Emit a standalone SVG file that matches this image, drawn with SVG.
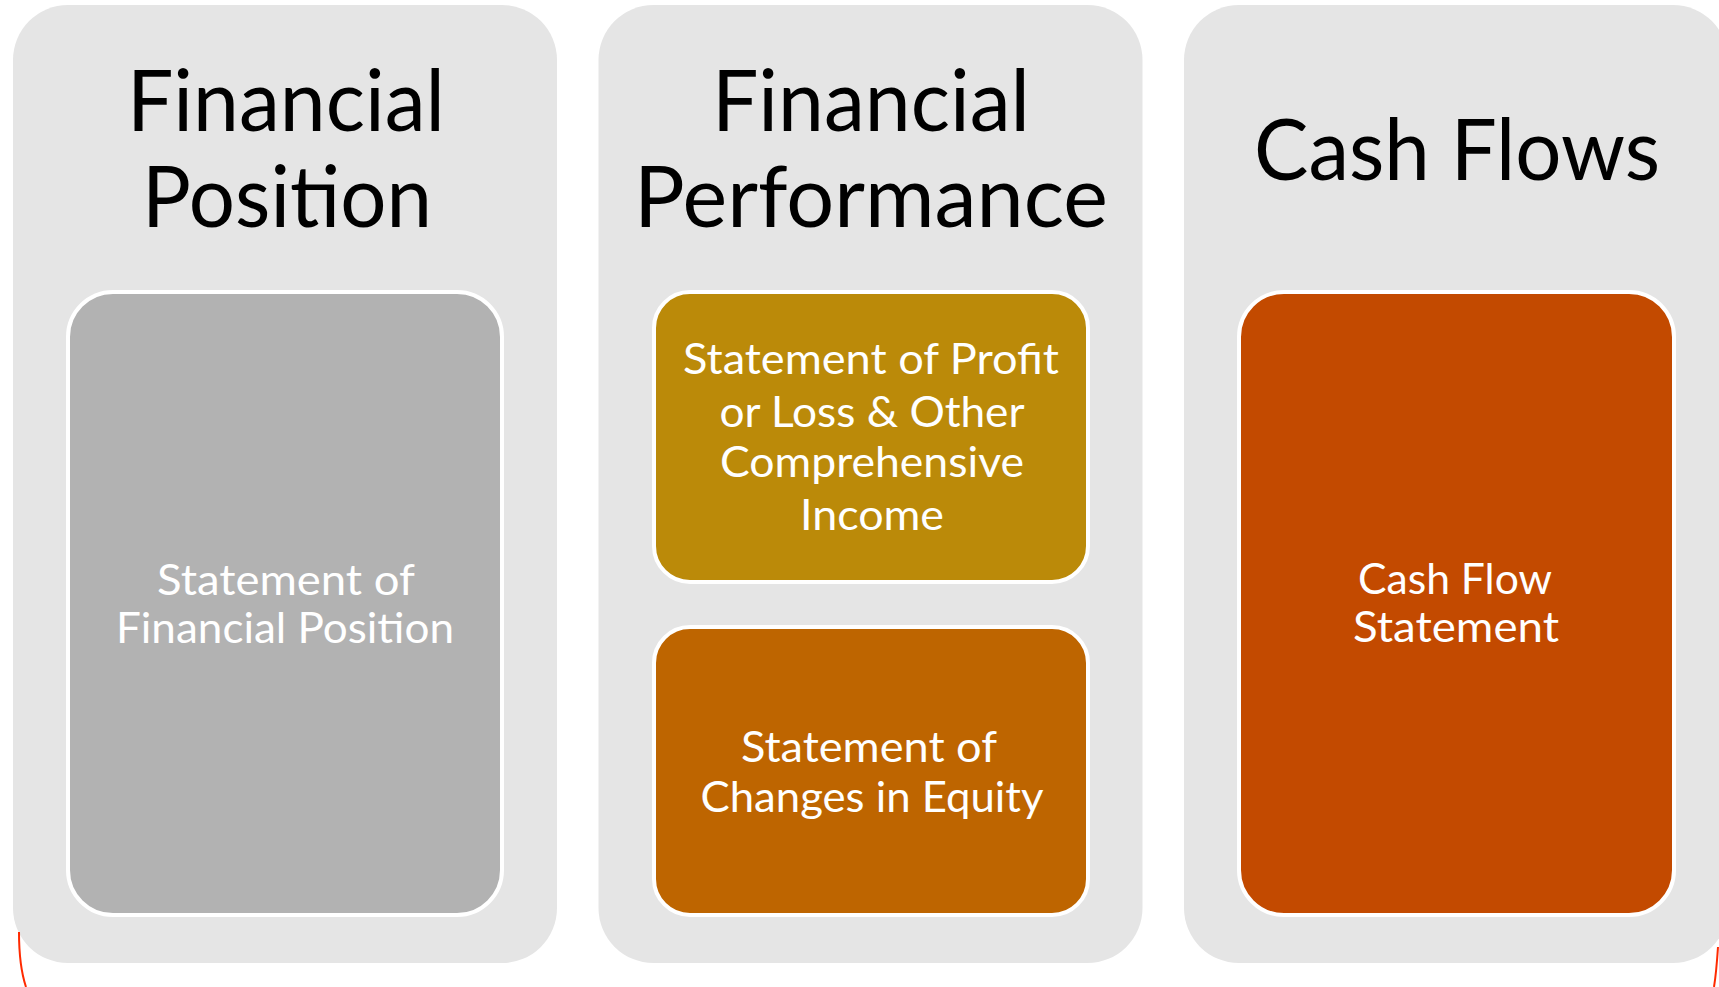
<svg xmlns="http://www.w3.org/2000/svg" width="1719" height="987" viewBox="0 0 1719 987">
<style>
.panel{fill:#E5E5E5}
.box{stroke:#FFFFFF;stroke-width:4}
.title{font-family:Lato,"Open Sans",sans-serif;font-size:86px;fill:#000000;text-anchor:middle}
.lbl{font-family:Lato,"Open Sans",sans-serif;font-size:42px;fill:#FFFFFF;text-anchor:middle}
.mark{fill:none;stroke:#FF2A00;stroke-width:2}
</style>
<rect width="1719" height="987" fill="#FFFFFF"/>
<g id="panel-position">
<rect class="panel" x="13" y="5" width="544" height="958" rx="55" ry="55"/>
<text class="title" x="286" y="131" textLength="318" lengthAdjust="spacingAndGlyphs">Financial</text>
<text class="title" x="287" y="227" textLength="290" lengthAdjust="spacingAndGlyphs">Position</text>
</g>
<g id="panel-performance">
<rect class="panel" x="598.5" y="5" width="544" height="958" rx="55" ry="55"/>
<text class="title" x="871" y="131" textLength="318" lengthAdjust="spacingAndGlyphs">Financial</text>
<text class="title" x="871" y="227" textLength="474" lengthAdjust="spacingAndGlyphs">Performance</text>
</g>
<g id="panel-cashflows">
<rect class="panel" x="1184" y="5" width="544" height="958" rx="55" ry="55"/>
<text class="title" x="1457" y="180" textLength="406" lengthAdjust="spacingAndGlyphs">Cash Flows</text>
</g>
<g id="node-sfp">
<rect class="box" x="68" y="292" width="434" height="623" rx="45" ry="45" fill="#B2B2B2"/>
<text class="lbl" x="286" y="595" textLength="258" lengthAdjust="spacingAndGlyphs">Statement of</text>
<text class="lbl" x="285" y="643" textLength="338" lengthAdjust="spacingAndGlyphs">Financial Position</text>
</g>
<g id="node-sploci">
<rect class="box" x="654" y="292" width="434" height="290" rx="36" ry="36" fill="#BB8A09"/>
<text class="lbl" x="871" y="374" textLength="376" lengthAdjust="spacingAndGlyphs">Statement of Profit</text>
<text class="lbl" x="872" y="427" textLength="305" lengthAdjust="spacingAndGlyphs">or Loss &amp; Other</text>
<text class="lbl" x="872" y="477" textLength="304" lengthAdjust="spacingAndGlyphs">Comprehensive</text>
<text class="lbl" x="872" y="530" textLength="144" lengthAdjust="spacingAndGlyphs">Income</text>
</g>
<g id="node-soce">
<rect class="box" x="654" y="627" width="434" height="288" rx="36" ry="36" fill="#BE6500"/>
<text class="lbl" x="869" y="762" textLength="256" lengthAdjust="spacingAndGlyphs">Statement of</text>
<text class="lbl" x="872" y="812" textLength="343" lengthAdjust="spacingAndGlyphs">Changes in Equity</text>
</g>
<g id="node-cfs">
<rect class="box" x="1239" y="292" width="435" height="623" rx="45" ry="45" fill="#C34A00"/>
<text class="lbl" x="1455" y="594" textLength="194" lengthAdjust="spacingAndGlyphs">Cash Flow</text>
<text class="lbl" x="1456" y="642" textLength="206" lengthAdjust="spacingAndGlyphs">Statement</text>
</g>
<g id="connectors">
<path class="mark" d="M19,932 C19,955 21,972 26,987"/>
<path class="mark" d="M1718,947 C1717,962 1716,975 1714,987"/>
</g>
</svg>
